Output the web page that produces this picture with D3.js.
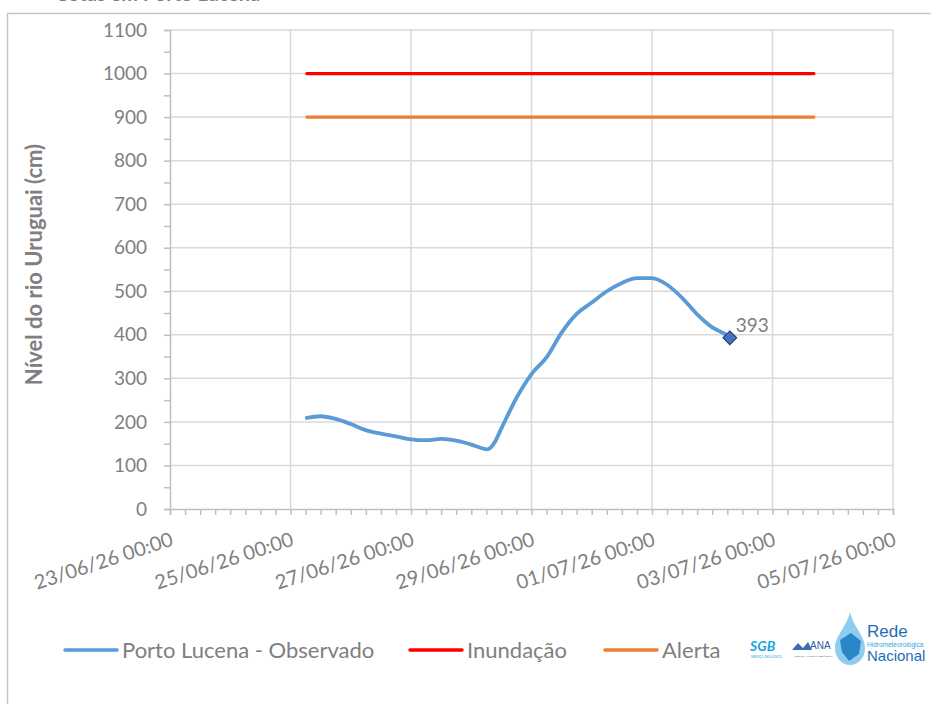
<!DOCTYPE html>
<html>
<head>
<meta charset="utf-8">
<script src="https://cdn.jsdelivr.net/npm/d3@7"></script>
<style>
  body { margin: 0; background: #fff; }
  svg { display: block; font-family: Lato, "Open Sans", sans-serif; }
</style>
</head>
<body>
<div id="chart"></div>
<script>
// observed river level, Porto Lucena
var obsTimes = [
  "25/06/26 06:30", "25/06/26 12:00", "25/06/26 18:00",
  "26/06/26 00:00", "26/06/26 06:00", "26/06/26 12:00", "26/06/26 18:00",
  "27/06/26 00:00", "27/06/26 06:00", "27/06/26 12:00", "27/06/26 18:00",
  "28/06/26 00:00", "28/06/26 06:30", "28/06/26 09:00", "28/06/26 12:00", "28/06/26 18:00",
  "29/06/26 00:00", "29/06/26 06:00", "29/06/26 12:00", "29/06/26 18:00",
  "30/06/26 00:00", "30/06/26 06:00", "30/06/26 12:00", "30/06/26 18:00",
  "01/07/26 00:00", "01/07/26 06:00", "01/07/26 12:00", "01/07/26 18:00",
  "02/07/26 00:00", "02/07/26 06:00", "02/07/26 07:00"
];
var obsValues = [
  209, 213, 207,
  195, 181, 173, 167,
  160, 158, 161, 157,
  148, 137, 150, 185, 255,
  310, 348, 405, 448,
  474, 500, 519, 530,
  530, 515, 485, 447,
  417, 398, 393
];

var thresholdNames = ["Inundação", "Alerta"];
var thresholdValues = [1000, 900];
var thresholdColors = ["#ff0000", "#ed7d31"];
var thresholdStart = "25/06/26 06:30";
var thresholdEnd = "03/07/26 16:30";

var xDomain = ["23/06/26 00:00", "05/07/26 00:00"];
var yTicks = [0, 100, 200, 300, 400, 500, 600, 700, 800, 900, 1000, 1100];

(function() {
var parse = d3.utcParse("%d/%m/%y %H:%M");
var fmt = d3.utcFormat("%d/%m/%y %H:%M");

var width = 931, height = 704;
var pLeft = 170, pRight = 893, pTop = 30, pBottom = 509;
var grey = "#808080";

var svg = d3.select("#chart").append("svg")
  .attr("width", width)
  .attr("height", height);

// outer frame + title cut off at top
svg.append("text")
  .attr("x", 55).attr("y", 0.5)
  .attr("font-size", 20).attr("font-weight", "bold").attr("fill", "#7f7f7f")
  .text("Cotas em Porto Lucena");
svg.append("path")
  .attr("d", "M7.5," + height + "V13.5H" + width)
  .attr("fill", "none").attr("stroke", "#c6c6c6").attr("stroke-width", 1.5);

var x = d3.scaleUtc()
  .domain(xDomain.map(parse))
  .range([pLeft, pRight]);

var y = d3.scaleLinear()
  .domain([0, 1100])
  .range([pBottom, pTop]);

var xMajor = d3.utcDay.every(2).range(parse(xDomain[0]), d3.utcHour.offset(parse(xDomain[1]), 1));
var xMinor = d3.utcHour.every(6).range(parse(xDomain[0]), d3.utcHour.offset(parse(xDomain[1]), 1));

// gridlines
svg.append("g").selectAll("line").data(yTicks.slice(1))
  .enter().append("line")
    .attr("x1", pLeft).attr("x2", pRight)
    .attr("y1", function(d) { return y(d); })
    .attr("y2", function(d) { return y(d); })
    .attr("stroke", "#d9d9d9").attr("stroke-width", 1.5);

svg.append("g").selectAll("line").data(xMajor.slice(1))
  .enter().append("line")
    .attr("x1", function(d) { return x(d); })
    .attr("x2", function(d) { return x(d); })
    .attr("y1", pTop).attr("y2", pBottom)
    .attr("stroke", "#d9d9d9").attr("stroke-width", 1.5);

// y axis
var yAxis = d3.axisLeft(y)
  .tickValues(yTicks)
  .tickFormat(d3.format("d"))
  .tickSize(6)
  .tickPadding(17);
var yG = svg.append("g")
  .attr("transform", "translate(" + pLeft + ",0)")
  .call(yAxis);
yG.select(".domain").attr("stroke", "#bfbfbf").attr("stroke-width", 1.5);
yG.selectAll(".tick line").attr("stroke", "#bfbfbf").attr("stroke-width", 1.5);
yG.selectAll(".tick text").attr("fill", grey).attr("font-size", 19)
  .attr("font-family", "Lato, sans-serif");

var yMinor = d3.axisLeft(y)
  .tickValues(d3.range(50, 1100, 100))
  .tickSize(6)
  .tickFormat("");
var yMG = svg.append("g")
  .attr("transform", "translate(" + pLeft + ",0)")
  .call(yMinor);
yMG.select(".domain").remove();
yMG.selectAll(".tick line").attr("stroke", "#bfbfbf").attr("stroke-width", 1.5);

// x axis
var xMinorAxis = d3.axisBottom(x)
  .tickValues(xMinor)
  .tickSize(6)
  .tickFormat("");
var xG = svg.append("g")
  .attr("transform", "translate(0," + pBottom + ")")
  .call(xMinorAxis);
xG.select(".domain").attr("stroke", "#bfbfbf").attr("stroke-width", 1.5);
xG.selectAll(".tick line").attr("stroke", "#bfbfbf").attr("stroke-width", 1.5);

svg.append("g").selectAll("text").data(xMajor)
  .enter().append("text")
    .attr("transform", function(d) {
      return "translate(" + (x(d) - 1) + ",529) rotate(-18)";
    })
    .attr("text-anchor", "end")
    .attr("dy", "0.85em")
    .attr("font-size", 20)
    .attr("fill", grey)
    .text(function(d) { return fmt(d); });

// y title
svg.append("text")
  .attr("transform", "translate(42," + ((pTop + pBottom) / 2 - 5) + ") rotate(-90)")
  .attr("text-anchor", "middle")
  .attr("font-size", 22)
  .attr("font-weight", "bold")
  .attr("fill", grey)
  .text("Nível do rio Uruguai (cm)");

// threshold lines
svg.append("g").selectAll("line").data(thresholdValues)
  .enter().append("line")
    .attr("x1", x(parse(thresholdStart)))
    .attr("x2", x(parse(thresholdEnd)))
    .attr("y1", function(d) { return y(d); })
    .attr("y2", function(d) { return y(d); })
    .attr("stroke", function(d, i) { return thresholdColors[i]; })
    .attr("stroke-width", 3.2)
    .attr("stroke-linecap", "round");

// observed line
var obs = obsTimes.map(function(t, i) { return [parse(t), obsValues[i]]; });
var line = d3.line()
  .x(function(d) { return x(d[0]); })
  .y(function(d) { return y(d[1]); })
  .curve(d3.curveMonotoneX);

svg.append("path")
  .datum(obs)
  .attr("d", line)
  .attr("fill", "none")
  .attr("stroke", "#5b9bd5")
  .attr("stroke-width", 3.8)
  .attr("stroke-linecap", "round")
  .attr("stroke-linejoin", "round");

var last = obs[obs.length - 1];
svg.append("path")
  .attr("d", d3.symbol().type(d3.symbolSquare).size(95)())
  .attr("transform", "translate(" + x(last[0]) + "," + y(last[1]) + ") rotate(45)")
  .attr("fill", "#4472c4")
  .attr("stroke", "#203864")
  .attr("stroke-width", 1);

svg.append("text")
  .attr("x", x(last[0]) + 6)
  .attr("y", y(last[1]) - 6)
  .attr("font-size", 19)
  .attr("fill", grey)
  .text(last[1]);

// legend
var legendItems = [
  { name: "Porto Lucena - Observado", color: "#5b9bd5", x: 65 },
  { name: thresholdNames[0], color: thresholdColors[0], x: 410 },
  { name: thresholdNames[1], color: thresholdColors[1], x: 605 }
];
var lg = svg.append("g").selectAll("g").data(legendItems)
  .enter().append("g")
    .attr("transform", function(d) { return "translate(" + d.x + ",650)"; });
lg.append("line")
  .attr("x1", 0).attr("x2", 52)
  .attr("stroke", function(d) { return d.color; })
  .attr("stroke-width", 3.5)
  .attr("stroke-linecap", "round");
lg.append("text")
  .attr("x", 57)
  .attr("dy", "0.35em")
  .attr("font-size", 22)
  .attr("fill", grey)
  .text(function(d) { return d.name; });

// logos (rough)
var narrow = "'Liberation Sans Narrow', 'Liberation Sans', sans-serif";
var logo = svg.append("g");
logo.append("text")
  .attr("x", 750).attr("y", 651)
  .attr("font-size", 14).attr("font-weight", "bold").attr("font-style", "italic")
  .attr("fill", "#1aa3dd")
  .text("SGB");
logo.append("text")
  .attr("x", 751).attr("y", 658)
  .attr("font-size", 3).attr("fill", "#1aa3dd")
  .text("SERVIÇO GEOLÓGICO");
logo.append("path")
  .attr("d", "M792,650 L798,643 L803,648 L808,642 L812,650 Z")
  .attr("fill", "#3b6db3");
logo.append("text")
  .attr("x", 810).attr("y", 649)
  .attr("font-size", 10).attr("fill", "#2c5aa0")
  .attr("font-family", narrow)
  .text("ANA");
logo.append("text")
  .attr("x", 794).attr("y", 657)
  .attr("font-size", 2.6).attr("fill", "#2c5aa0")
  .text("AGÊNCIA NACIONAL DE ÁGUAS");
logo.append("path")
  .attr("d", "M850,612 C846,628 835,636 835,648 C835,658 842,665 850,665 C858,665 865,658 865,648 C865,636 854,628 850,612 Z")
  .attr("fill", "#8fcdee");
logo.append("path")
  .attr("d", "M840,640 L851,633 L861,641 L859,654 L849,661 L842,652 Z")
  .attr("fill", "#2a86c8");
logo.append("text")
  .attr("x", 867).attr("y", 637)
  .attr("font-size", 17).attr("fill", "#1b6fb5")
  .attr("font-family", narrow)
  .text("Rede");
logo.append("text")
  .attr("x", 867).attr("y", 647)
  .attr("font-size", 6.5).attr("fill", "#35a6e0")
  .attr("font-family", narrow)
  .text("Hidrometeorológica");
logo.append("text")
  .attr("x", 867).attr("y", 661)
  .attr("font-size", 15).attr("fill", "#1b6fb5")
  .attr("font-family", narrow)
  .text("Nacional");
})();
</script>
</body>
</html>
